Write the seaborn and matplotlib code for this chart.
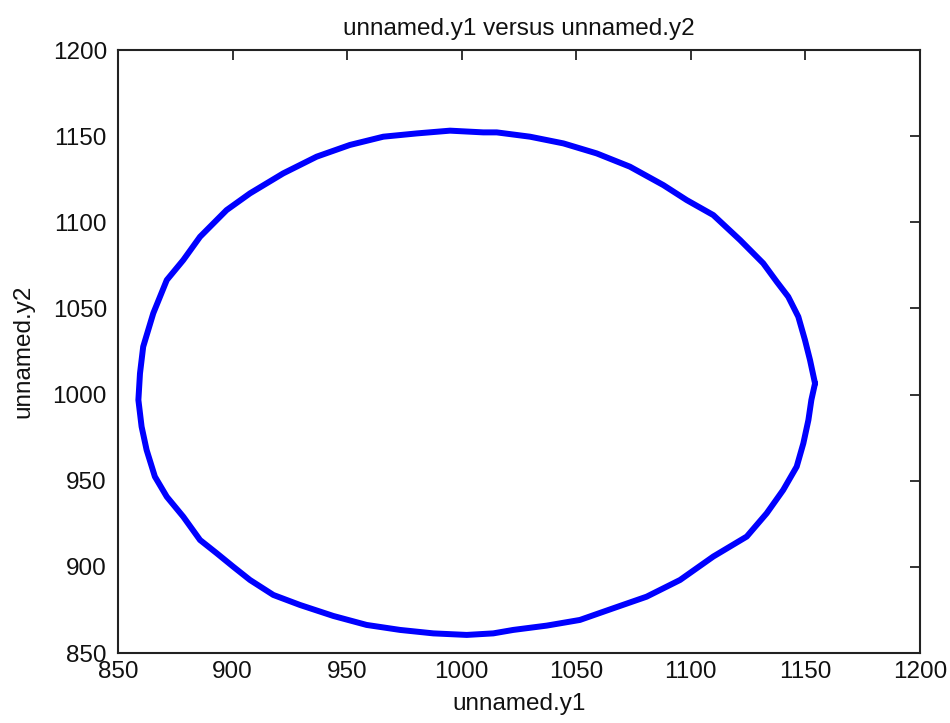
import matplotlib
matplotlib.use("Agg")
import matplotlib.pyplot as plt
import seaborn as sns
import pandas as pd

sns.set_style("white")
plt.rcParams['font.family'] = ['Liberation Sans', 'DejaVu Sans']

# points, going round once from the right tip (counter-clockwise)
y1 = [1154.2, 1152.0, 1149.8, 1146.9, 1142.5, 1137.5, 1131.6, 1121.5, 1109.8, 1098.2,
      1088.0, 1073.4, 1058.9, 1044.4, 1029.8, 1015.3, 1009.4, 994.9, 980.4, 965.8,
      951.2, 936.7, 922.1, 907.6, 897.4, 885.8, 878.5, 871.3, 865.4, 861.0,
      859.6, 858.9, 860.3, 862.5, 866.1, 871.3, 878.5, 885.8, 893.1, 900.3,
      907.6, 917.8, 929.4, 944.0, 958.5, 973.1, 987.6, 1002.2, 1013.8, 1022.5,
      1037.1, 1051.6, 1066.2, 1080.7, 1095.3, 1109.8, 1124.4, 1133.1, 1140.3, 1146.2,
      1149.1, 1151.3, 1152.6, 1154.2]
y2 = [1006.5, 1020.1, 1031.7, 1045.2, 1056.8, 1065.5, 1076.2, 1089.7, 1104.2, 1112.9,
      1121.6, 1132.3, 1140.0, 1145.8, 1149.7, 1152.2, 1152.2, 1153.2, 1151.6, 1149.7,
      1144.9, 1138.1, 1128.4, 1116.8, 1107.1, 1091.6, 1078.1, 1066.5, 1047.2, 1027.8,
      1012.3, 996.9, 981.4, 967.8, 952.4, 940.7, 929.1, 915.6, 907.9, 900.1,
      892.4, 883.7, 877.9, 871.5, 866.3, 863.4, 861.4, 860.5, 861.4, 863.4,
      865.9, 869.2, 876.0, 882.7, 892.4, 906.0, 917.6, 931.1, 944.6, 958.2,
      971.7, 985.2, 996.9, 1006.5]

df = pd.DataFrame({"unnamed.y1": y1, "unnamed.y2": y2})

fig = plt.figure(figsize=(9.5, 7.23), dpi=100)
ax = fig.add_axes([0.1242, 0.0968, 0.8442, 0.834])

sns.lineplot(data=df, x="unnamed.y1", y="unnamed.y2", sort=False, estimator=None,
             color="#0000ff", linewidth=4.3, ax=ax)

ax.set_xlim(850, 1200)
ax.set_ylim(850, 1200)
ax.set_xticks(range(850, 1201, 50))
ax.set_yticks(range(850, 1201, 50))
ax.tick_params(direction="in", top=True, right=True, length=7, width=1.2,
               labelsize=17.5, colors="#111111")
ax.tick_params(axis="x", pad=6)
ax.tick_params(axis="y", pad=8)
for s in ax.spines.values():
    s.set_color("#222222")
    s.set_linewidth(1.5)

ax.set_title("unnamed.y1 versus unnamed.y2", fontsize=17.5, pad=11, color="#111111")
ax.set_xlabel("unnamed.y1", fontsize=17.5, labelpad=7, color="#111111")
ax.set_ylabel("unnamed.y2", fontsize=17.5, labelpad=13, color="#111111")

plt.savefig("out.png", dpi=100)
plt.close()
